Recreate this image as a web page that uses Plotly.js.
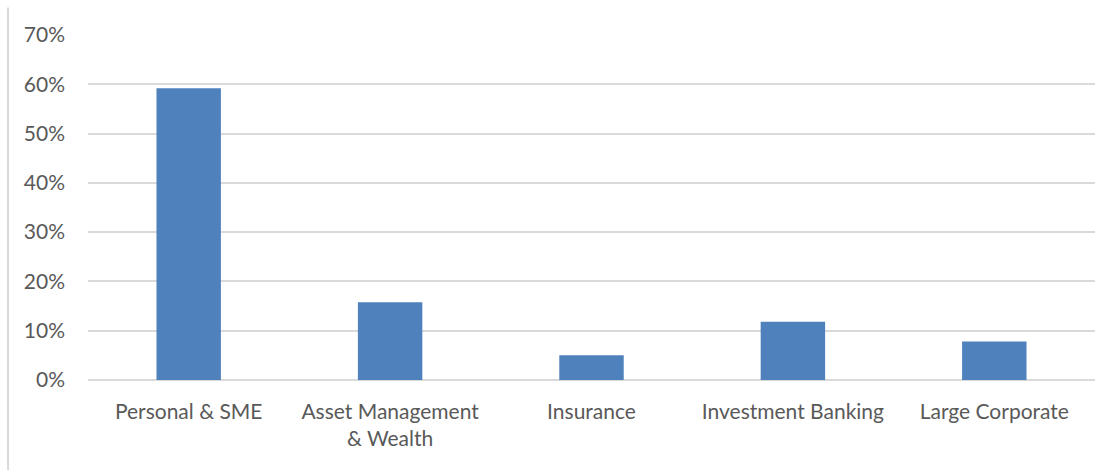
<!DOCTYPE html>
<html><head><meta charset="utf-8">
<script src="https://cdn.plot.ly/plotly-3.0.1.min.js"></script>
<style>html,body{margin:0;padding:0;background:#fff}#c{width:1114px;height:470px}</style>
</head><body><div id="c"></div>
<script>
const categories = ["Personal & SME", "Asset Management<br>& Wealth", "Insurance", "Investment Banking", "Large Corporate"];
const shares = [0.592, 0.158, 0.050, 0.118, 0.078];
const tickValues = [0, 0.1, 0.2, 0.3, 0.4, 0.5, 0.6, 0.7];
const tickLabels = ["0%", "10%", "20%", "30%", "40%", "50%", "60%", "70%"];

const fontFam = "Lato, 'Open Sans', sans-serif";
Plotly.newPlot('c', [{
  type: 'bar', x: categories, y: shares,
  marker: {color: '#4F81BD'}, hoverinfo: 'none'
}], {
  width: 1114, height: 470,
  margin: {l: 88, r: 19, t: 35, b: 90},
  paper_bgcolor: '#fff', plot_bgcolor: '#fff',
  bargap: 0.68,
  showlegend: false,
  font: {family: fontFam, size: 21, color: '#595959'},
  xaxis: {type: 'category', showgrid: false, showline: false, zeroline: false,
          ticks: '', ticklabelstandoff: 17, tickfont: {family: fontFam, size: 21, color: '#595959'}},
  yaxis: {range: [0, 0.7], tickvals: tickValues, ticktext: tickLabels,
          showgrid: true, gridcolor: '#D9D9D9', gridwidth: 2, zeroline: true, zerolinecolor: '#D9D9D9', zerolinewidth: 2,
          showline: false, ticks: '', ticklabelstandoff: 22, tickfont: {family: fontFam, size: 21, color: '#595959'}},
  shapes: [{type: 'line', xref: 'paper', yref: 'paper', x0: -0.0794, x1: -0.0794, y0: 1.08, y1: -0.27,
            line: {color: '#D9D9D9', width: 2}}]
}, {staticPlot: true});
</script></body></html>
